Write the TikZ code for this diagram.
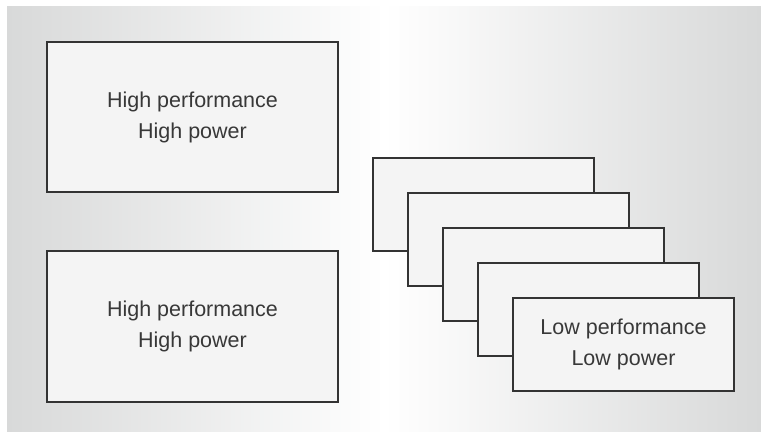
\documentclass[tikz,border=0pt]{standalone}
\usepackage{fontspec}
\setmainfont{Liberation Sans}
\usepackage{tikz}
\usetikzlibrary{positioning}
\definecolor{edgegray}{HTML}{333333}
\definecolor{boxfill}{HTML}{F4F4F4}
\definecolor{bggray}{HTML}{D8D9D9}
\tikzset{
    x=1pt, y=1pt, % one unit is one pixel of the picture
    node distance=35pt and 35pt, % offset between the stacked little cores
    core/.style={draw=edgegray, line width=1.3pt, fill=boxfill, text=black!78,
        align=center, inner sep=0pt, font=\fontsize{21.5}{31}\selectfont}, % every core box
    bigcore/.style={core, minimum width=291pt, minimum height=150pt},
    littlecore/.style={core, minimum width=221pt, minimum height=93pt},
}

\begin{document}
\begin{tikzpicture}
        \useasboundingbox (0,0) rectangle (761,433);
        % background
        \shade[left color=bggray, right color=bggray, middle color=white] (7,1) rectangle (761,426);

        % big cores
        \node[bigcore] (HP1) at (192.5,316) {High performance\\High power};
        \node[bigcore, on grid, below=209.5pt of HP1, minimum height=151pt] (HP2) {High performance\\High power};

        % little cores, each one on top of the previous
        \node[littlecore] (LP1) at (483.5,228.5) {};
        \node[littlecore, on grid, below right=35pt and 35pt of LP1] (LP2) {};
        \node[littlecore, on grid, below right=35pt and 35pt of LP2] (LP3) {};
        \node[littlecore, on grid, below right=35pt and 35pt of LP3] (LP4) {};
        \node[littlecore, on grid, below right=35pt and 35pt of LP4] (LP5) {Low performance\\Low power};
\end{tikzpicture}
\end{document}
